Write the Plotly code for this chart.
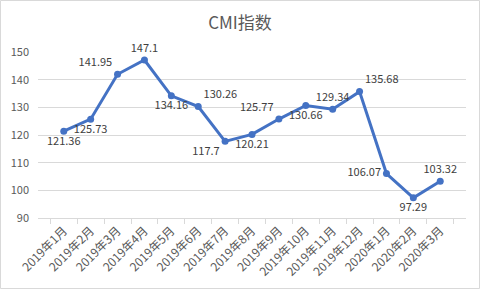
import plotly.graph_objects as go

months = ["2019年1月", "2019年2月", "2019年3月", "2019年4月", "2019年5月", "2019年6月",
          "2019年7月", "2019年8月", "2019年9月", "2019年10月", "2019年11月", "2019年12月",
          "2020年1月", "2020年2月", "2020年3月"]
cmi = [121.36, 125.73, 141.95, 147.1, 134.16, 130.26, 117.7, 120.21, 125.77,
       130.66, 129.34, 135.68, 106.07, 97.29, 103.32]
label_pos = ["bottom center", "bottom center", "top left", "top center", "bottom center",
             "top right", "bottom left", "bottom center", "top left", "bottom center",
             "top center", "top right", "middle left", "bottom center", "top center"]
y_ticks = [90, 100, 110, 120, 130, 140, 150]

W, H = 480, 289
L, R, T, B = 38, 14, 52, 71
FONT = "Noto Sans CJK SC, Liberation Sans, sans-serif"
GRAY = "#595959"
GRID = "#D9D9D9"

fig = go.Figure(go.Scatter(
    x=months, y=cmi,
    mode="lines+markers+text",
    line=dict(color="#4472C4", width=3),
    marker=dict(color="#4472C4", size=7),
    text=[f"{v:g}" for v in cmi],
    textposition=label_pos,
    textfont=dict(family=FONT, size=11, color="#404040"),
    cliponaxis=False,
    hoverinfo="x+y",
))

pw, ph = W - L - R, H - T - B
fig.add_shape(type="rect", xref="paper", yref="paper",
              x0=-(L - 0.5) / pw, x1=1 + (R - 0.5) / pw,
              y0=-(B - 0.5) / ph, y1=1 + (T - 0.5) / ph,
              line=dict(color=GRID, width=1), layer="below")

fig.update_layout(
    width=W, height=H,
    margin=dict(l=L, r=R, t=T, b=B),
    paper_bgcolor="white", plot_bgcolor="white",
    showlegend=False,
    title=dict(text="CMI指数", x=0.5, xref="container", xanchor="center",
               y=1 - 23 / H, yanchor="middle", automargin=False,
               font=dict(family=FONT, size=17, color=GRAY)),
    xaxis=dict(
        type="category", tickangle=-45, tickson="boundaries",
        ticks="outside", ticklen=5, tickcolor=GRID,
        showline=True, linecolor=GRID, linewidth=1,
        showgrid=False, automargin=False,
        tickfont=dict(family=FONT, size=12, color=GRAY),
    ),
    yaxis=dict(
        range=[90, 150], tickvals=y_ticks,
        showgrid=True, gridcolor=GRID, gridwidth=1,
        zeroline=False, showline=False, automargin=False,
        ticklabelstandoff=8,
        tickfont=dict(family=FONT, size=11, color=GRAY),
    ),
)

fig.write_html("out.html")
